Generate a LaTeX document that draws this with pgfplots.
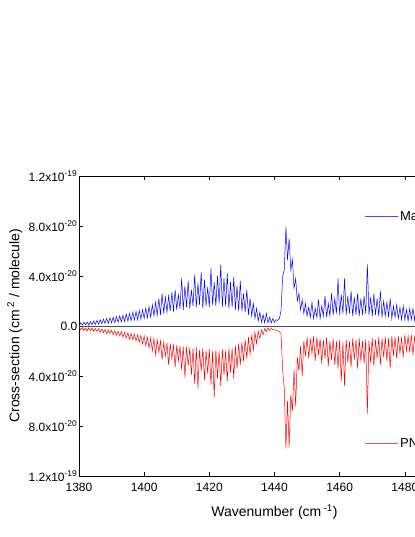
\documentclass[border=0pt]{standalone}
\usepackage{pgfplots}
\pgfplotsset{compat=1.18}
\usepackage{pgfplotstable}
\usepackage{fontspec}
\setmainfont{Liberation Sans}
\pgfplotstableread{
x b r
1380.0 0.05 -0.10
1380.5 0.25 -0.30
1381.0 0.08 -0.12
1381.5 0.30 -0.35
1382.0 0.10 -0.15
1382.5 0.32 -0.40
1383.0 0.08 -0.14
1383.5 0.35 -0.38
1384.0 0.12 -0.18
1384.5 0.40 -0.45
1385.0 0.12 -0.20
1385.5 0.45 -0.42
1386.0 0.15 -0.22
1386.5 0.50 -0.50
1387.0 0.18 -0.25
1387.5 0.55 -0.55
1388.0 0.20 -0.28
1388.5 0.60 -0.62
1389.0 0.22 -0.30
1389.5 0.65 -0.58
1390.0 0.25 -0.35
1390.5 0.70 -0.70
1391.0 0.28 -0.38
1391.5 0.75 -0.75
1392.0 0.30 -0.42
1392.5 0.80 -0.80
1393.0 0.32 -0.45
1393.5 0.85 -0.90
1394.0 0.35 -0.50
1394.5 0.95 -0.95
1395.0 0.40 -0.55
1395.5 1.00 -1.05
1396.0 0.42 -0.60
1396.5 1.10 -1.10
1397.0 0.48 -0.65
1397.5 1.15 -1.20
1398.0 0.50 -0.70
1398.5 1.25 -1.30
1399.0 0.55 -0.75
1399.5 1.30 -1.45
1400.0 0.60 -0.80
1400.5 1.45 -1.60
1401.0 0.65 -0.90
1401.5 1.55 -1.75
1402.0 0.70 -0.95
1402.5 1.70 -2.00
1403.0 0.80 -1.00
1403.5 1.90 -2.30
1404.0 0.85 -1.10
1404.5 2.20 -2.10
1405.0 0.90 -1.20
1405.5 2.60 -2.70
1406.0 1.00 -1.30
1406.5 2.30 -2.40
1407.0 1.10 -1.35
1407.5 2.40 -3.10
1408.0 1.20 -1.40
1408.5 2.70 -2.60
1409.0 1.15 -1.50
1409.5 2.90 -3.30
1410.0 1.30 -1.55
1410.5 2.50 -2.80
1411.0 1.40 -1.60
1411.5 3.80 -3.50
1412.0 1.30 -1.65
1412.5 3.20 -4.10
1413.0 1.50 -1.70
1413.5 3.60 -3.20
1414.0 1.40 -1.75
1414.5 2.90 -3.90
1415.0 1.60 -1.80
1415.5 4.10 -4.60
1416.0 1.50 -1.70
1416.5 3.40 -5.00
1417.0 1.70 -1.90
1417.5 4.30 -3.60
1418.0 1.40 -1.80
1418.5 3.70 -4.30
1419.0 1.60 -1.95
1419.5 3.10 -3.80
1420.0 1.50 -1.85
1420.5 4.60 -4.70
1421.0 1.70 -2.00
1421.5 3.50 -5.70
1422.0 1.60 -1.90
1422.5 4.00 -4.20
1423.0 1.80 -2.00
1423.5 4.90 -4.80
1424.0 1.50 -1.85
1424.5 3.80 -3.90
1425.0 1.60 -1.95
1425.5 4.20 -4.40
1426.0 1.40 -1.80
1426.5 3.50 -3.70
1427.0 1.50 -1.75
1427.5 3.90 -4.20
1428.0 1.30 -1.60
1428.5 3.20 -3.40
1429.0 1.20 -1.40
1429.5 3.60 -3.10
1430.0 1.20 -1.30
1430.5 2.60 -2.80
1431.0 1.10 -1.10
1431.5 2.90 -2.60
1432.0 0.90 -0.90
1432.5 2.20 -2.30
1433.0 0.80 -0.70
1433.5 1.80 -1.90
1434.0 0.60 -0.50
1434.5 1.40 -1.40
1435.0 0.40 -0.40
1435.5 1.10 -1.00
1436.0 0.30 -0.30
1436.5 0.90 -0.70
1437.0 0.25 -0.20
1437.5 1.00 -0.45
1438.0 0.25 -0.15
1438.5 0.70 -0.35
1439.0 0.25 -0.20
1439.5 0.60 -0.30
1440.0 0.30 -0.30
1440.5 0.50 -0.35
1441.0 0.45 -0.40
1441.5 0.60 -0.45
1442.0 1.20 -0.60
1442.5 4.00 -3.50
1443.0 4.50 -5.00
1443.5 7.90 -9.80
1444.0 5.30 -6.00
1444.5 7.00 -9.70
1445.0 4.50 -5.50
1445.5 5.30 -6.80
1446.0 3.00 -3.50
1446.5 3.80 -6.40
1447.0 2.00 -2.50
1447.5 2.60 -3.60
1448.0 1.30 -1.60
1448.5 2.10 -4.00
1449.0 1.00 -1.20
1449.5 1.80 -2.40
1450.0 0.80 -0.90
1450.5 1.50 -2.60
1451.0 0.70 -1.00
1451.5 1.90 -2.20
1452.0 0.60 -0.80
1452.5 1.40 -2.80
1453.0 0.70 -0.90
1453.5 2.10 -2.30
1454.0 0.60 -1.00
1454.5 1.60 -3.00
1455.0 0.80 -1.10
1455.5 2.40 -2.60
1456.0 0.70 -0.90
1456.5 1.80 -3.20
1457.0 0.80 -1.20
1457.5 2.60 -2.70
1458.0 0.90 -1.00
1458.5 2.20 -3.10
1459.0 1.00 -1.20
1459.5 3.80 -3.40
1460.0 0.90 -1.10
1460.5 2.50 -4.40
1461.0 1.00 -1.30
1461.5 3.80 -4.80
1462.0 0.90 -1.10
1462.5 2.40 -2.90
1463.0 1.00 -1.20
1463.5 2.80 -3.30
1464.0 0.80 -1.00
1464.5 2.30 -2.70
1465.0 0.90 -1.10
1465.5 2.60 -3.40
1466.0 0.80 -1.00
1466.5 2.20 -2.80
1467.0 0.90 -1.20
1467.5 2.40 -3.00
1468.0 1.00 -1.10
1468.5 4.90 -7.00
1469.0 0.90 -1.20
1469.5 2.30 -2.90
1470.0 0.80 -1.00
1470.5 2.60 -3.20
1471.0 0.90 -1.10
1471.5 2.20 -2.60
1472.0 0.80 -0.90
1472.5 2.80 -3.10
1473.0 0.70 -1.00
1473.5 2.00 -2.50
1474.0 0.80 -0.90
1474.5 1.90 -2.80
1475.0 0.70 -1.00
1475.5 2.20 -3.40
1476.0 0.60 -0.80
1476.5 1.60 -2.40
1477.0 0.70 -0.90
1477.5 1.70 -2.60
1478.0 0.60 -0.80
1478.5 1.50 -2.20
1479.0 0.50 -0.90
1479.5 1.60 -2.50
1480.0 0.50 -0.70
1480.5 1.30 -2.00
1481.0 0.40 -0.80
1481.5 1.40 -2.10
1482.0 0.50 -0.70
1482.5 1.40 -2.30
1483.0 0.45 -0.80
1483.5 1.50 -2.00
1484.0 0.40 -0.70
1484.5 1.30 -2.20
1485.0 0.45 -0.75
1485.5 1.20 -1.90
1486.0 0.40 -0.70
1486.5 1.30 -2.00
1487.0 0.40 -0.65
1487.5 1.10 -1.80
1488.0 0.35 -0.60
1488.5 1.20 -1.90
1489.0 0.35 -0.60
1489.5 1.00 -1.70
1490.0 0.30 -0.55
1490.5 1.10 -1.60
1491.0 0.30 -0.55
1491.5 0.90 -1.50
1492.0 0.30 -0.50
1492.5 0.95 -1.40
1493.0 0.25 -0.50
1493.5 0.80 -1.30
1494.0 0.25 -0.45
1494.5 0.85 -1.20
1495.0 0.25 -0.45
1495.5 0.70 -1.10
1496.0 0.20 -0.40
1496.5 0.70 -1.00
1497.0 0.20 -0.40
1497.5 0.60 -0.90
1498.0 0.20 -0.35
1498.5 0.55 -0.80
1499.0 0.15 -0.35
1499.5 0.50 -0.70
1500.0 0.15 -0.30
}\spectrum
\begin{document}
\begin{tikzpicture}
\useasboundingbox (0,0) rectangle (415bp,537bp);
\clip (0,0) rectangle (415bp,537bp);
\begin{axis}[
  at={(79bp,61bp)}, anchor=south west,
  scale only axis, width=391bp, height=300bp,
  xmin=1380, xmax=1500, ymin=-12, ymax=12,
  xtick={1380,1400,1420,1440,1460,1480,1500},
  xticklabels={1380,1400,1420,1440,1460,1480,1500},
  ytick={-12,-8,-4,0,4,8,12},
  yticklabels={1.2x10\textsuperscript{-19},8.0x10\textsuperscript{-20},4.0x10\textsuperscript{-20},0.0,4.0x10\textsuperscript{-20},8.0x10\textsuperscript{-20},1.2x10\textsuperscript{-19}},
  minor tick num=0,
  tick align=inside,
  major tick length=4bp,
  tick style={black, line width=0.6pt},
  axis line style={black, line width=0.8pt},
  ticklabel style={font=\fontsize{12bp}{14bp}\selectfont},
  yticklabel style={inner sep=1.5bp},
  xticklabel style={yshift=-3.5bp},
  xlabel={Wavenumber (cm\,\textsuperscript{-1})},
  ylabel={Cross-section (cm\,\textsuperscript{2} / molecule)},
  label style={font=\fontsize{14bp}{16bp}\selectfont},
  xlabel style={at={(axis description cs:0.5,-0.12)}, anchor=center},
  ylabel style={at={(axis description cs:-0.164,0.5)}, anchor=center},
  clip=true,
]
\draw[black!70, line width=0.6pt] (axis cs:1380,0) -- (axis cs:1500,0);
\addplot[blue, line width=0.5pt] table[x=x, y=b] {\spectrum};
\addplot[red, line width=0.5pt] table[x=x, y=r] {\spectrum};
\draw[blue!70, line width=0.6pt] (axis cs:1467.8,8.8) -- (axis cs:1478.0,8.8)
  node[right, inner sep=1.5bp, black, font=\fontsize{13bp}{15bp}\selectfont] {Manchester};
\draw[red!70, line width=0.6pt] (axis cs:1467.8,-9.36) -- (axis cs:1478.0,-9.36)
  node[right, inner sep=1.5bp, black, font=\fontsize{13bp}{15bp}\selectfont] {PNNL};
\end{axis}
\end{tikzpicture}
\end{document}
